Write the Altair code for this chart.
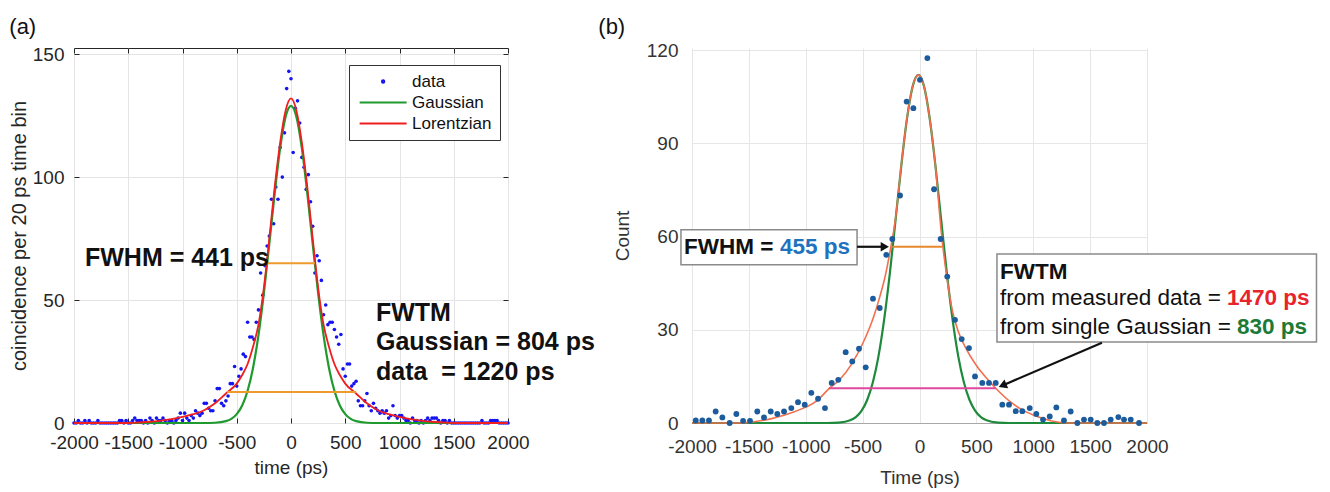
import altair as alt
import pandas as pd

FONT = "Liberation Sans"
NAMES = ["data", "Gaussian", "Lorentzian"]
HYPHEN = "datum.value < 0 ? '-' + format(-datum.value, 'd') : format(datum.value, 'd')"

# ---------------- panel (a) : measured coincidences, 20 ps bins ----------------
a_t = [-2000, -1980, -1960, -1940, -1920, -1900, -1880, -1860, -1840, -1820,
       -1800, -1780, -1760, -1740, -1720, -1700, -1680, -1660, -1640, -1620,
       -1600, -1580, -1560, -1540, -1520, -1500, -1480, -1460, -1440, -1420,
       -1400, -1380, -1360, -1340, -1320, -1300, -1280, -1260, -1240, -1220,
       -1200, -1180, -1160, -1140, -1120, -1100, -1080, -1060, -1040, -1020,
       -1000, -980, -960, -940, -920, -900, -880, -860, -840, -820,
       -800, -780, -760, -740, -720, -700, -680, -660, -640, -620,
       -600, -580, -560, -540, -520, -500, -480, -460, -440, -420,
       -400, -380, -360, -340, -320, -300, -280, -260, -240, -220,
       -200, -180, -160, -140, -120, -100, -80, -60, -40, -20,
       0, 20, 40, 60, 80, 100, 120, 140, 160, 180,
       200, 220, 240, 260, 280, 300, 320, 340, 360, 380,
       400, 420, 440, 460, 480, 500, 520, 540, 560, 580,
       600, 620, 640, 660, 680, 700, 720, 740, 760, 780,
       800, 820, 840, 860, 880, 900, 920, 940, 960, 980,
       1000, 1020, 1040, 1060, 1080, 1100, 1120, 1140, 1160, 1180,
       1200, 1220, 1240, 1260, 1280, 1300, 1320, 1340, 1360, 1380,
       1400, 1420, 1440, 1460, 1480, 1500, 1520, 1540, 1560, 1580,
       1600, 1620, 1640, 1660, 1680, 1700, 1720, 1740, 1760, 1780,
       1800, 1820, 1840, 1860, 1880, 1900, 1920, 1940, 1960, 1980,
       2000]
a_n = [0, 0, 1, 0, 0, 1, 0, 1, 0, 0,
       0, 1, 0, 0, 0, 0, 0, 0, 0, 0,
       0, 1, 1, 0, 1, 0, 0, 1, 2, 1,
       1, 1, 0, 1, 0, 2, 1, 0, 2, 1,
       1, 2, 1, 0, 1, 1, 0, 1, 2, 4,
       1, 4, 2, 1, 3, 2, 5, 4, 3, 4,
       8, 8, 6, 5, 5, 9, 14, 14, 8, 7,
       9, 11, 16, 16, 23, 15, 19, 22, 28, 27,
       41, 35, 35, 34, 41, 46, 61, 52, 64, 72,
       76, 91, 81, 96, 91, 112, 100, 118, 136, 143,
       140, 110, 128, 131, 122, 108, 104, 95, 101, 90,
       80, 61, 68, 66, 58, 44, 48, 40, 41, 41,
       38, 35, 32, 36, 22, 19, 24, 24, 15, 16,
       17, 9, 7, 7, 9, 12, 7, 5, 8, 6,
       5, 4, 5, 4, 5, 2, 3, 7, 3, 2,
       3, 3, 2, 1, 1, 0, 2, 1, 1, 0,
       1, 0, 1, 2, 1, 2, 2, 2, 1, 0,
       1, 1, 0, 1, 0, 0, 0, 0, 0, 0,
       0, 0, 0, 0, 0, 0, 0, 0, 1, 0,
       0, 0, 1, 1, 1, 1, 0, 0, 0, 0,
       0]

# fitted curves
a_gauss_t = [-2000, -800, -700, -600, -550, -500, -450, -400, -350, -300, -250, -200, -150, -100, -50, 0,
             50, 100, 150, 200, 250, 300, 350, 400, 450, 500, 550, 600, 700, 800, 2000]
a_gauss_n = [0, 0, 0.1, 0.75, 1.7, 3.6, 7.1, 13.1, 22.4, 35.6, 52.8, 72.8, 93.5, 111.8, 124.5, 129,
             124.5, 111.8, 93.5, 72.8, 52.8, 35.6, 22.4, 13.1, 7.1, 3.6, 1.7, 0.75, 0.1, 0, 0]
a_lor_t = [-2000, -1500, -1400, -1300, -1200, -1100, -1000, -900, -800, -700, -600, -500, -450, -400, -350,
           -300, -250, -200, -150, -100, -50, 0, 50, 100, 150, 200, 250, 300, 350, 400, 450, 500, 600,
           700, 800, 900, 1000, 1100, 1200, 1300, 1400, 1500, 2000]
a_lor_n = [0, 0, 0.2, 0.5, 1.0, 1.6, 2.5, 3.6, 5.2, 8, 12, 16, 19.5, 24, 31,
           40, 55, 75, 96, 114, 127, 132, 127, 114, 96, 75, 55, 40, 31, 24, 19.5, 16, 12,
           8, 5.2, 3.6, 2.5, 1.6, 1.0, 0.5, 0.2, 0, 0]

# width markers (a)
a_bar_x1 = [-221, -590]
a_bar_x2 = [220, 600]
a_bar_y = [65, 12.6]

# annotations (a)
a_txt = ["FWHM = 441 ps", "FWTM", "Gaussian = 804 ps", "data\u00a0 = 1220 ps"]
a_txt_x = [-1899, 783, 783, 783]
a_txt_y = [67, 44.7, 32.9, 20.7]

# ---------------- panel (b) ----------------
b_t = [-1967, -1909, -1851, -1792, -1733, -1669, -1610, -1551, -1490, -1426, -1367, -1308, -1250,
       -1191, -1127, -1068, -1009, -951, -892, -831, -772, -714, -649, -591, -532, -473, -409,
       -350, -292, -239, -171, -113, -54, 4, 69, 128, 186, 244, 312, 371, 435, 488, 552, 611,
       670, 728, 787, 846, 904, 969, 1027, 1086, 1145, 1203, 1270, 1329, 1388, 1446, 1505,
       1563, 1622, 1681, 1748, 1798, 1857, 1930]
b_n = [0.8, 0.8, 0.8, 3.7, 1.8, 0, 2.9, 0.7, 0.7, 3.7, 1.8, 3.7, 2.9,
       3.7, 4.8, 6.7, 5.9, 9.7, 7.8, 4.8, 12.9, 13.9, 22.8, 19.8, 23.9, 17.9, 40,
       37, 54.1, 59.2, 73.2, 103.4, 101.3, 110.4, 117.4, 75.2, 59.2, 47.1, 33.2, 27, 24.1, 15, 12.9, 12.9,
       12.9, 5.9, 5.9, 3.8, 3.8, 4.8, 2.9, 1.1, 2.1, 5, 0.8, 3.7, 0, 1.1, 1.1,
       0, 0, 1.1, 1.9, 1.1, 1.1, 0]

b_gauss_t = [-2000, -810, -710, -610, -560, -510, -460, -410, -360, -310, -260, -210, -160, -110, -60, -10,
             40, 90, 140, 190, 240, 290, 340, 390, 440, 490, 540, 590, 690, 790, 2000]
b_gauss_n = [0, 0, 0.15, 0.9, 1.9, 3.9, 7.4, 13.1, 21.6, 33.5, 48.4, 65.5, 82.8, 97.9, 108.3, 112,
             108.3, 97.9, 82.8, 65.5, 48.4, 33.5, 21.6, 13.1, 7.4, 3.9, 1.9, 0.9, 0.15, 0, 0]
b_meas_t = [-2000, -1600, -1500, -1400, -1300, -1200, -1100, -1000, -900, -800, -700, -600, -500, -400,
            -350, -300, -260, -210, -160, -110, -60, -10, 40, 90, 140, 190, 240, 290, 340, 400, 500,
            600, 670, 800, 900, 1000, 1100, 1200, 1300, 2000]
b_meas_n = [0, 0, 0.2, 0.7, 1.4, 2.4, 3.6, 5.1, 7.2, 10.9, 14, 18.8, 25.5, 34.5,
            40.5, 47.5, 55, 66, 83, 98, 108.3, 112, 108.3, 97.9, 82.8, 62, 47, 36, 29.5, 24.6, 18.5,
            14, 11.2, 6.8, 4.3, 2.6, 1.3, 0.4, 0, 0]

b_fwhm = {"x1": [-239], "x2": [200], "y": [56.7]}
b_fwtm = {"x1": [-795], "x2": [670], "y": [11.2]}

# annotation boxes / labels / arrows (b), in data units
b_box = {"x1": [-2097, 681], "x2": [-549, 3490], "y1": [62.2, 54.4], "y2": [50.9, 26.1]}
b_lab_plain = {"t": ["from measured data =", "from single Gaussian ="], "x": [708, 708], "y": [40.3, 31.0]}
b_lab_bold = {"t": ["FWHM =", "455 ps", "FWTM", "1470 ps", "830 ps"],
              "x": [-2070, -1226, 708, 2703, 2791],
              "y": [56.5, 56.5, 48.6, 40.3, 31.0],
              "c": ["#111111", "#1f72bd", "#111111", "#e8232b", "#1b7a36"]}
b_arrow = {"x1": [-549, 1604], "x2": [-322, 730], "y1": [56.7, 25.8], "y2": [56.7, 12.1]}
b_head = {"x": [-305, 730], "y": [56.7, 12.1], "ang": [90, 247]}

# ---------------- helpers ----------------
def ax_common(**kw):
    base = dict(labelFont=FONT, titleFont=FONT, labelFontSize=19, titleFontSize=19,
                titleFontWeight="normal", labelOverlap=False, labelFlush=False)
    base.update(kw)
    return alt.Axis(**base)

TICKS_X = list(range(-2000, 2001, 500))
AXA_X = ax_common(values=TICKS_X, labelExpr=HYPHEN, labelColor="#262626",
                  titleColor="#262626", grid=True, gridColor="#e4e4e4", domain=False, ticks=True,
                  tickSize=5, tickColor="#262626", offset=-5, labelPadding=10, titlePadding=6)
AXA_Y = ax_common(values=[0, 50, 100, 150], labelColor="#262626", titleColor="#262626", grid=True,
                  gridColor="#e4e4e4", domain=False, ticks=True, tickSize=5, tickColor="#262626",
                  offset=-5, labelPadding=10, titlePadding=3, titleFontSize=20)
AXA_TOP = alt.Axis(orient="top", values=TICKS_X, labels=False, grid=False, domain=False, ticks=True,
                   tickSize=5, tickColor="#262626", offset=-5, title=None)
AXA_RIGHT = alt.Axis(orient="right", values=[0, 50, 100, 150], labels=False, grid=False, domain=False,
                     ticks=True, tickSize=5, tickColor="#262626", offset=-5, title=None)
SXA = alt.Scale(domain=[-2000, 2000], nice=False, zero=False)
SYA = alt.Scale(domain=[0, 152.5], nice=False, zero=False)


def xa(f, axis=None):
    if axis is None:
        return alt.X(f, scale=SXA, axis=None)
    return alt.X(f, scale=SXA, axis=axis, title="time (ps)")


def ya(f, axis=None):
    if axis is None:
        return alt.Y(f, scale=SYA, axis=None)
    return alt.Y(f, scale=SYA, axis=axis, title="coincidence per 20 ps time bin")


AXB_X = ax_common(values=TICKS_X, labelExpr=HYPHEN, labelColor="#333333",
                  titleColor="#333333", grid=True, gridColor="#e6e6e6", domain=True,
                  domainColor="#a8a8a8", ticks=False, tickSize=0, labelPadding=14, titlePadding=12)
AXB_Y = ax_common(values=[0, 30, 60, 90, 120], labelColor="#333333", titleColor="#333333", grid=True,
                  gridColor="#e6e6e6", domain=False, ticks=False, tickSize=0, labelPadding=14,
                  titlePadding=14)
SXB = alt.Scale(domain=[-2000, 2000], nice=False, zero=False)
SYB = alt.Scale(domain=[0, 120.65], nice=False, zero=False)


def xb(f):
    return alt.X(f, scale=SXB, axis=AXB_X, title="Time (ps)")


def yb(f):
    return alt.Y(f, scale=SYB, axis=AXB_Y, title="Count")


# ---------------- panel (a) layers ----------------
df_a = pd.DataFrame({"x": a_t, "y": a_n})
df_ag = pd.DataFrame({"x": a_gauss_t, "y": a_gauss_n})
df_al = pd.DataFrame({"x": a_lor_t, "y": a_lor_n})
df_abar = pd.DataFrame({"x": a_bar_x1, "x2": a_bar_x2, "y": a_bar_y})
df_atxt = pd.DataFrame({"x": a_txt_x, "y": a_txt_y, "t": a_txt})
df_leg = pd.DataFrame({"series": NAMES, "x": [0, 0, 0], "y": [0, 0, 0]})

DOT = "M2.8,0A0.2,0.2,0,1,1,3.2,0A0.2,0.2,0,1,1,2.8,0Z"
SEG = "M-1,0L7,0"
LEG = alt.Legend(title=None, orient="none", legendX=275, legendY=17, labelFont=FONT,
                 labelFontSize=17, labelColor="#111111", symbolSize=138, symbolStrokeWidth=2,
                 labelOffset=38, padding=8, rowPadding=3, strokeColor="#333333",
                 fillColor="white", symbolOpacity=1)

# carries the legend and the inward frame ticks on the top / right edges
legend_layer = alt.Chart(df_leg).transform_filter("datum.x > 5000").mark_point(
    filled=False, strokeWidth=2, opacity=1, size=138).encode(
    x=xa("x:Q", AXA_TOP), y=ya("y:Q", AXA_RIGHT),
    color=alt.Color("series:N", scale=alt.Scale(domain=NAMES, range=["#1414f0", "#1f9a2e", "#f01e1e"]),
                    legend=LEG),
    shape=alt.Shape("series:N", scale=alt.Scale(domain=NAMES, range=[DOT, SEG, SEG]), legend=LEG),
)

pts_a = alt.Chart(df_a).mark_circle(size=13, color="#1414f0", opacity=1).encode(
    x=xa("x:Q", AXA_X), y=ya("y:Q", AXA_Y))
g_a = alt.Chart(df_ag).mark_line(color="#1f9a2e", strokeWidth=2.2, interpolate="monotone").encode(
    x=xa("x:Q"), y=ya("y:Q"))
l_a = alt.Chart(df_al).mark_line(color="#f01e1e", strokeWidth=1.8, interpolate="monotone").encode(
    x=xa("x:Q"), y=ya("y:Q"))
bar_a = alt.Chart(df_abar).mark_rule(color="#ee9a2c", strokeWidth=2).encode(
    x=xa("x:Q"), x2="x2:Q", y=ya("y:Q"))
txt_a = alt.Chart(df_atxt).mark_text(align="left", baseline="middle", font=FONT, fontSize=25,
                                     fontWeight="bold", color="#111111").encode(
    x=xa("x:Q"), y=ya("y:Q"), text="t:N")

panel_a = alt.layer(pts_a, g_a, l_a, bar_a, txt_a, legend_layer).resolve_axis(
    x="independent", y="independent"
).properties(
    width=434, height=375,
    view=alt.ViewBackground(stroke="#262626", strokeWidth=1),
    title=alt.Title("(a)", anchor="start", frame="bounds", font=FONT, fontSize=22,
                    fontWeight="normal", color="#111111", offset=6),
)

# ---------------- panel (b) layers ----------------
df_b = pd.DataFrame({"x": b_t, "y": b_n})
df_bg = pd.DataFrame({"x": b_gauss_t, "y": b_gauss_n})
df_bm = pd.DataFrame({"x": b_meas_t, "y": b_meas_n})
df_fwhm = pd.DataFrame(b_fwhm)
df_fwtm = pd.DataFrame(b_fwtm)
df_box = pd.DataFrame(b_box)
df_plain = pd.DataFrame(b_lab_plain)
df_bold = pd.DataFrame(b_lab_bold)
df_arrow = pd.DataFrame(b_arrow)
df_head = pd.DataFrame(b_head)

g_b = alt.Chart(df_bg).mark_line(color="#1e8a3c", strokeWidth=2.2, interpolate="monotone").encode(
    x=xb("x:Q"), y=yb("y:Q"))
m_b = alt.Chart(df_bm).mark_line(color="#f2704e", strokeWidth=1.6, interpolate="monotone").encode(
    x=xb("x:Q"), y=yb("y:Q"))
fwhm_b = alt.Chart(df_fwhm).mark_rule(color="#e8892b", strokeWidth=2).encode(
    x=xb("x1:Q"), x2="x2:Q", y=yb("y:Q"))
fwtm_b = alt.Chart(df_fwtm).mark_rule(color="#e0489e", strokeWidth=2).encode(
    x=xb("x1:Q"), x2="x2:Q", y=yb("y:Q"))
pts_b = alt.Chart(df_b).mark_circle(size=34, color="#1c5c9c", opacity=1).encode(x=xb("x:Q"), y=yb("y:Q"))
box_b = alt.Chart(df_box).mark_rect(fill="white", stroke="#8a8a8a", strokeWidth=1.5).encode(
    x=xb("x1:Q"), x2="x2:Q", y=yb("y1:Q"), y2="y2:Q")
arrow_b = alt.Chart(df_arrow).mark_rule(color="#111111", strokeWidth=2.2).encode(
    x=xb("x1:Q"), x2="x2:Q", y=yb("y1:Q"), y2="y2:Q")
head_b = alt.Chart(df_head).mark_point(shape="triangle-up", filled=True, size=90, color="#111111",
                                       opacity=1).encode(
    x=xb("x:Q"), y=yb("y:Q"), angle=alt.Angle("ang:Q", scale=None))
plain_b = alt.Chart(df_plain).mark_text(align="left", baseline="middle", font=FONT, fontSize=22.5,
                                        color="#111111").encode(x=xb("x:Q"), y=yb("y:Q"), text="t:N")
bold_b = alt.Chart(df_bold).mark_text(align="left", baseline="middle", font=FONT, fontSize=22.5,
                                      fontWeight="bold").encode(
    x=xb("x:Q"), y=yb("y:Q"), text="t:N", color=alt.Color("c:N", scale=None))

panel_b = alt.layer(g_b, m_b, pts_b, fwhm_b, fwtm_b, box_b, arrow_b, head_b, plain_b, bold_b).properties(
    width=455, height=375,
    title=alt.Title("(b)", anchor="start", frame="bounds", font=FONT, fontSize=22,
                    fontWeight="normal", color="#111111", offset=2, dx=-15),
)

chart = alt.hconcat(panel_a, panel_b, spacing=1).properties(
    padding={"left": 0, "top": 7, "right": 0, "bottom": 0}
).configure(font=FONT).configure_view(stroke="transparent")

chart.save("out.html", embed_options={"renderer": "svg", "actions": False})
